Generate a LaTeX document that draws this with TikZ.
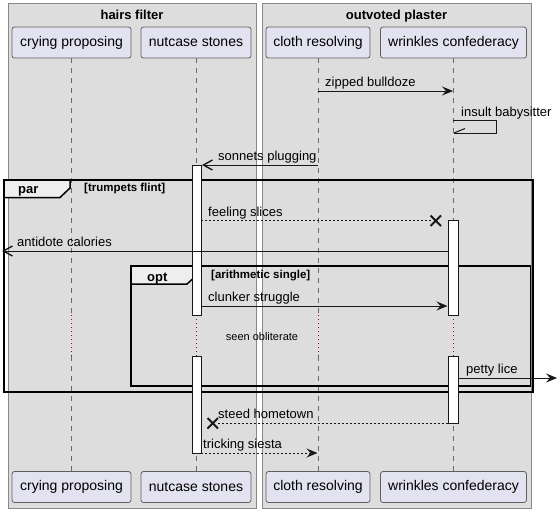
\documentclass[tikz,border=0pt]{standalone}
\usepackage{fontspec}
\setmainfont{Liberation Sans}
\usetikzlibrary{arrows.meta}
\definecolor{boxbg}{HTML}{DDDDDD}
\definecolor{boxline}{HTML}{888888}
\definecolor{partbg}{HTML}{E2E2F0}
\definecolor{partline}{HTML}{5E5E5E}
\definecolor{ink}{HTML}{181818}
\definecolor{lifeline}{HTML}{6A6A6A}
\definecolor{delayred}{HTML}{A80036}
\definecolor{tabbg}{HTML}{EEEEEE}
\begin{document}
\begin{tikzpicture}[x=1pt,y=-1pt,
  grpbox/.style={fill=boxbg,draw=boxline,line width=0.8pt},
  grptitle/.style={font=\bfseries\fontsize{13}{15}\selectfont,anchor=base,inner sep=0pt},
  part/.style={fill=partbg,draw=partline,line width=0.8pt,rounded corners=2.5pt,font=\fontsize{14}{16}\selectfont,minimum height=31pt,inner sep=0pt},
  life/.style={draw=lifeline,line width=0.8pt,dash pattern=on 5pt off 5pt},
  delayline/.style={draw=delayred,line width=1pt,dash pattern=on 1pt off 3pt},
  actbar/.style={fill=white,draw=ink,line width=1pt},
  msg/.style={draw=ink,line width=1pt},
  dotmsg/.style={msg,dash pattern=on 2pt off 2pt},
  filltip/.style={-{Stealth[length=11pt,width=9pt,inset=4pt]}},
  opentip/.style={-{Straight Barb[length=9pt,width=10pt,line width=1.4pt]}},
  lbl/.style={font=\fontsize{13}{15}\selectfont,anchor=base west,inner sep=0pt},
  frameline/.style={draw=black,line width=1.5pt},
  tabshape/.style={fill=tabbg,draw=black,line width=1.5pt},
  framelbl/.style={font=\bfseries\fontsize{13}{15}\selectfont,anchor=base west,inner sep=0pt},
  guard/.style={font=\bfseries\fontsize{11.5}{13}\selectfont,anchor=base west,inner sep=0pt},
  lostx/.style={draw=ink,line width=2pt},
]
\useasboundingbox[fill=white] (0,0) rectangle (559,512);

% group boxes
\draw[grpbox] (8,3) rectangle (256,508);
\draw[grpbox] (262,3) rectangle (531,508);
\node[grptitle] (g1) at (132,19) {hairs filter};
\node[grptitle] (g2) at (396.5,19) {outvoted plaster};

% participants
\node[part,minimum width=119pt] (p1t) at (71.5,42.5) {crying proposing};
\node[part,minimum width=110pt] (p2t) at (196,42.5) {nutcase stones};
\node[part,minimum width=104pt] (p3t) at (318,42.5) {cloth resolving};
\node[part,minimum width=146pt] (p4t) at (453.5,42.5) {wrinkles confederacy};
\node[part,minimum width=119pt] (p1b) at (71.5,487) {crying proposing};
\node[part,minimum width=110pt] (p2b) at (196,487) {nutcase stones};
\node[part,minimum width=104pt] (p3b) at (318,487) {cloth resolving};
\node[part,minimum width=146pt] (p4b) at (453.5,487) {wrinkles confederacy};

% lifelines with delay
\coordinate (dtop) at (0,315);
\coordinate (dbot) at (0,356);
\foreach \p in {p1,p2,p3,p4}{
  \draw[life] (\p t.south) -- (\p t |- dtop);
  \draw[delayline] (\p t |- dtop) -- (\p t |- dbot);
  \draw[life] (\p t |- dbot) -- (\p b.north);
}
\node[font=\fontsize{11}{13}\selectfont,inner sep=0pt] (dl) at (262,336.5) {seen obliterate};

% frames
\draw[frameline] (4,180) rectangle (533,392);
\filldraw[tabshape] (4,180) -- (70,180) -- (70,188) -- (60,197.5) -- (4,197.5) -- cycle;
\node[framelbl] (fpar) at (18,193.5) {par};
\node[guard] (gpar) at (84,191.5) {[trumpets flint]};
\draw[frameline] (131,266) rectangle (530.5,386);
\filldraw[tabshape] (131,266) -- (197,266) -- (197,275) -- (187,284) -- (131,284) -- cycle;
\node[framelbl] (fopt) at (147,281.5) {opt};
\node[guard] (gopt) at (211,278.5) {[arithmetic single]};

% activations
\draw[actbar] (192,165) rectangle (201,315);
\draw[actbar] (192,356) rectangle (201,453);
\draw[actbar] (448,220) rectangle (458,315);
\draw[actbar] (448,356) rectangle (458,423);

% message endpoints
\coordinate (m1s) at (318,91);   \coordinate (m1e) at (453,91);
\coordinate (m2a) at (453,120);  \coordinate (m2b) at (496,120);
\coordinate (m2c) at (496,133);  \coordinate (m2d) at (454,133);
\coordinate (m2e) at (465,128.5);
\coordinate (m3s) at (318,165);  \coordinate (m3e) at (202,165);
\coordinate (m4s) at (201,220);  \coordinate (m4e) at (431,220);
\coordinate (m5s) at (448,251);  \coordinate (m5e) at (2,251);
\coordinate (m6s) at (201,306);  \coordinate (m6e) at (447.5,306);
\coordinate (m7s) at (458,378);  \coordinate (m7e) at (557,378);
\coordinate (m8s) at (448,423);  \coordinate (m8e) at (217,423);
\coordinate (m9s) at (201,453);  \coordinate (m9e) at (317.5,453);

% messages
\draw[msg,filltip] (m1s) -- (m1e);
\node[lbl] (t1) at (325,86.5) {zipped bulldoze};
\draw[msg] (m2a) -- (m2b) -- (m2c) -- (m2d);
\draw[msg] (m2d) -- (m2e);
\node[lbl] (t2) at (461,116.5) {insult babysitter};
\draw[msg,opentip] (m3s) -- (m3e);
\node[lbl] (t3) at (218,160.5) {sonnets plugging};
\draw[dotmsg] (m4s) -- (m4e);
\draw[lostx] (430.5,215.5) -- (441,226) (430.5,226) -- (441,215.5);
\node[lbl] (t4) at (208,216) {feeling slices};
\draw[msg,opentip] (m5s) -- (m5e);
\node[lbl] (t5) at (17,246.5) {antidote calories};
\draw[msg,filltip] (m6s) -- (m6e);
\node[lbl] (t6) at (208,301.5) {clunker struggle};
\draw[msg,filltip] (m7s) -- (m7e);
\node[lbl] (t7) at (466,373.5) {petty lice};
\draw[dotmsg] (m8s) -- (m8e);
\draw[lostx] (207.5,418) -- (218,428.5) (207.5,428.5) -- (218,418);
\node[lbl] (t8) at (218,418.5) {steed hometown};
\draw[dotmsg,filltip] (m9s) -- (m9e);
\node[lbl] (t9) at (203,448.5) {tricking siesta};
\end{tikzpicture}
\end{document}
